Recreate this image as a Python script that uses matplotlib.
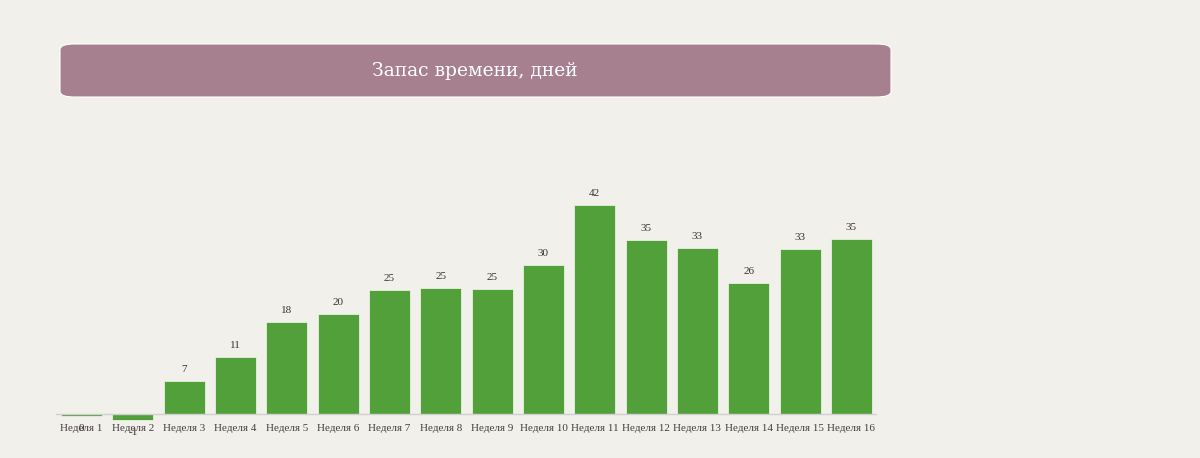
import matplotlib.pyplot as plt
from matplotlib.patches import FancyBboxPatch

# данные
weeks = ['Неделя ' + str(i) for i in range(1, 17)]
values = [-0.4, -1.2, 6.6, 11.4, 18.4, 20.1, 24.9, 25.4, 25.1, 29.9,
          42.0, 34.9, 33.4, 26.3, 33.1, 35.1]
labels = ['0', '-1', '7', '11', '18', '20', '25', '25', '25', '30',
          '42', '35', '33', '26', '33', '35']
title = 'Запас времени, дней'

bg = '#F2F0EB'
green = '#52A03A'
mauve = '#A6808F'

plt.rcParams['font.family'] = ['Liberation Serif', 'DejaVu Serif']

fig = plt.figure(figsize=(12, 4.58), dpi=100, facecolor=bg)

# плашка с заголовком
box = FancyBboxPatch((60 / 1200, 1 - 97 / 458), 831 / 1200, 53 / 458,
                     boxstyle='round,pad=0,rounding_size=0.012',
                     transform=fig.transFigure, facecolor=mauve,
                     edgecolor='white', linewidth=0.8)
fig.patches.append(box)
fig.text(475 / 1200, 1 - 71 / 458, title, color='white', fontsize=13.5,
         ha='center', va='center', family=['DejaVu Serif'])

ax = fig.add_axes([56 / 1200, 0.0742, 821 / 1200, 0.5437])
ax.set_facecolor(bg)
x = list(range(len(weeks)))
bars = ax.bar(x, values, width=0.8, color=green, edgecolor='#E8F0E0',
              linewidth=0.6)
ax.set_xlim(-0.5, 15.5)
ax.set_ylim(-2, 48)

for xi, v, lab in zip(x, values, labels):
    if v >= 0:
        ax.annotate(lab, (xi, v), xytext=(0, 5), textcoords='offset points',
                    ha='center', va='bottom', fontsize=8, color='#333333')
    else:
        ax.annotate(lab, (xi, v), xytext=(0, -6), textcoords='offset points',
                    ha='center', va='top', fontsize=8, color='#333333')

ax.axhline(0, color='#D0D0D0', linewidth=1)
ax.set_xticks(x)
ax.set_xticklabels(weeks, fontsize=8, color='#404040')
ax.tick_params(axis='x', length=0, pad=0)
ax.set_yticks([])
for s in ax.spines.values():
    s.set_visible(False)

fig.savefig('out.png', facecolor=bg)
